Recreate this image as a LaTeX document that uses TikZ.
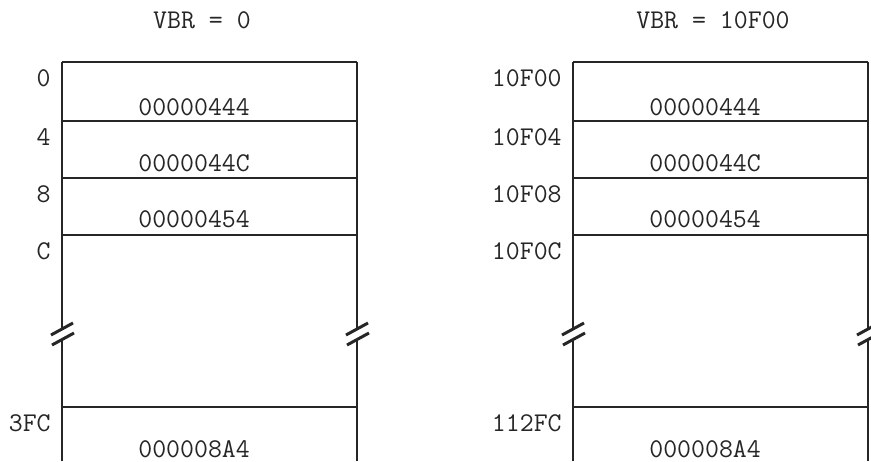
\documentclass[tikz,border=0pt]{standalone}
\usepackage{fontspec}
\usetikzlibrary{positioning}
\definecolor{ink}{RGB}{38,38,38}
\newcommand{\typefont}{\ttfamily\fontsize{15.4}{18}\selectfont}

\tikzset{
  memline/.style={ink,line width=1.1pt},
  breakmark/.style={ink,line width=1.7pt},
  addr/.style={ink,font=\typefont,anchor=east,inner sep=0pt},
  cellval/.style={ink,font=\typefont,anchor=west,inner sep=0pt},
  vbrtitle/.style={ink,font=\typefont,inner sep=0pt}
}

\begin{document}
\begin{tikzpicture}[x=0.02cm,y=-0.02cm]
\useasboundingbox (0,0) rectangle (871,461);
% one vector table per VBR value
\foreach \x/\vbr/\aa/\ab/\ac/\ad/\ae [count=\i] in
  {62/0/0/4/8/C/3FC, 573/10F00/10F00/10F04/10F08/10F0C/112FC}{
  \node[vbrtitle] (title\i) at (\x+140,20) {VBR = \vbr};
  % outline and cell borders
  \draw[memline] (\x,62) -- (\x+295,62);
  \foreach \y in {121,178,235,407}
    \draw[memline] (\x,\y) -- (\x+295,\y);
  \foreach \s in {0,295}{
    \draw[memline] (\x+\s,62) -- (\x+\s,329);
    \draw[memline] (\x+\s,339) -- (\x+\s,461);
    % break marks
    \draw[breakmark] (\x+\s-11,335) -- (\x+\s+11,323);
    \draw[breakmark] (\x+\s-10,345) -- (\x+\s+12,333);
  }
  % addresses
  \node[addr] (addr\i-0) at (\x-11,78) {\aa};
  \node[addr] (addr\i-4) at (\x-11,137) {\ab};
  \node[addr] (addr\i-8) at (\x-11,194) {\ac};
  \node[addr] (addr\i-C) at (\x-11,251) {\ad};
  \node[addr] (addr\i-end) at (\x-11,423) {\ae};
  % contents
  \node[cellval] (val\i-0) at (\x+76,107) {00000444};
  \node[cellval] (val\i-4) at (\x+76,163) {0000044C};
  \node[cellval] (val\i-8) at (\x+76,219) {00000454};
  \node[cellval] (val\i-end) at (\x+76,449) {000008A4};
}
\end{tikzpicture}
\end{document}
